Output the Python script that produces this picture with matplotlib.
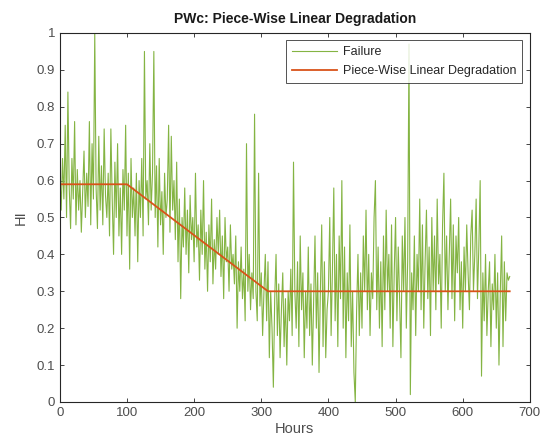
import numpy as np
import matplotlib
matplotlib.use("Agg")
import matplotlib.pyplot as plt

plt.rcParams['font.family'] = ['Liberation Sans', 'DejaVu Sans']

hi_values = [
    0.62, 0.52, 0.66, 0.55, 0.75, 0.50, 0.84, 0.58, 0.47, 0.66,
    0.55, 0.76, 0.48, 0.63, 0.52, 0.60, 0.46, 0.57, 0.68, 0.50,
    0.62, 0.53, 0.76, 0.48, 0.70, 0.55, 1.00, 0.58, 0.47, 0.72,
    0.52, 0.64, 0.48, 0.74, 0.56, 0.50, 0.62, 0.45, 0.74, 0.55,
    0.40, 0.65, 0.50, 0.70, 0.45, 0.58, 0.40, 0.63, 0.52, 0.75,
    0.45, 0.62, 0.36, 0.66, 0.50, 0.58, 0.45, 0.62, 0.38, 0.60,
    0.50, 0.66, 0.45, 0.95, 0.55, 0.60, 0.48, 0.70, 0.52, 0.62,
    0.95, 0.50, 0.64, 0.42, 0.66, 0.48, 0.57, 0.40, 0.62, 0.50,
    0.55, 0.75, 0.46, 0.72, 0.52, 0.60, 0.44, 0.65, 0.38, 0.55,
    0.28, 0.50, 0.42, 0.58, 0.40, 0.52, 0.35, 0.56, 0.44, 0.50,
    0.38, 0.62, 0.42, 0.48, 0.33, 0.52, 0.40, 0.60, 0.36, 0.46,
    0.30, 0.48, 0.38, 0.55, 0.32, 0.44, 0.36, 0.50, 0.40, 0.52,
    0.34, 0.45, 0.28, 0.50, 0.38, 0.42, 0.30, 0.48, 0.36, 0.40,
    0.32, 0.45, 0.20, 0.38, 0.30, 0.42, 0.28, 0.36, 0.22, 0.70,
    0.30, 0.40, 0.25, 0.35, 0.28, 0.78, 0.30, 0.22, 0.62, 0.26,
    0.35, 0.18, 0.30, 0.40, 0.22, 0.38, 0.12, 0.30, 0.20, 0.04,
    0.28, 0.40, 0.18, 0.32, 0.12, 0.25, 0.35, 0.15, 0.28, 0.10,
    0.30, 0.22, 0.36, 0.18, 0.65, 0.30, 0.20, 0.38, 0.15, 0.45,
    0.25, 0.35, 0.12, 0.30, 0.20, 0.42, 0.18, 0.32, 0.10, 0.28,
    0.45, 0.20, 0.35, 0.08, 0.30, 0.48, 0.15, 0.38, 0.12, 0.25,
    0.30, 0.50, 0.18, 0.36, 0.58, 0.22, 0.40, 0.15, 0.45, 0.28,
    0.60, 0.20, 0.42, 0.12, 0.35, 0.22, 0.48, 0.15, 0.30, 0.08,
    0.00, 0.25, 0.40, 0.18, 0.35, 0.20, 0.45, 0.30, 0.52, 0.25,
    0.40, 0.18, 0.35, 0.28, 0.50, 0.60, 0.25, 0.42, 0.20, 0.38,
    0.15, 0.45, 0.25, 0.52, 0.30, 0.40, 0.20, 0.48, 0.15, 0.35,
    0.50, 0.22, 0.42, 0.28, 0.12, 0.45, 0.30, 0.50, 0.20, 0.38,
    0.97, 0.02, 0.35, 0.25, 0.45, 0.18, 0.40, 0.30, 0.55, 0.25,
    0.48, 0.20, 0.38, 0.52, 0.28, 0.42, 0.18, 0.50, 0.30, 0.45,
    0.25, 0.55, 0.32, 0.40, 0.20, 0.48, 0.62, 0.30, 0.45, 0.25,
    0.40, 0.55, 0.28, 0.48, 0.22, 0.45, 0.35, 0.50, 0.25, 0.38,
    0.20, 0.42, 0.30, 0.48, 0.35, 0.25, 0.45, 0.52, 0.30, 0.40,
    0.55, 0.28, 0.42, 0.60, 0.07, 0.35, 0.22, 0.40, 0.18, 0.30,
    0.38, 0.15, 0.32, 0.25, 0.40, 0.20, 0.35, 0.10, 0.30, 0.45,
    0.15, 0.38, 0.22, 0.35, 0.33, 0.34,
]
hours = np.arange(len(hi_values)) * 2

# Piece-wise linear degradation breakpoints
pw_hours = [0, 100, 310, 670]
pw_values = [0.59, 0.59, 0.30, 0.30]

title = "PWc: Piece-Wise Linear Degradation"
xlabel = "Hours"
ylabel = "HI"
legend_labels = ["Failure", "Piece-Wise Linear Degradation"]

fig = plt.figure(figsize=(5.44, 4.47), dpi=100)
ax = fig.add_axes([0.110, 0.1007, 0.864, 0.8255])

ax.plot(hours, hi_values, color='#84B443', lw=0.8, label=legend_labels[0])
ax.plot(pw_hours, pw_values, color='#D95319', lw=1.3, label=legend_labels[1])

ax.set_xlim(0, 700)
ax.set_ylim(0, 1)
ax.set_xticks(np.arange(0, 701, 100))
ax.set_yticks(np.arange(0, 1.01, 0.1))
ax.set_yticklabels(['0', '0.1', '0.2', '0.3', '0.4', '0.5', '0.6', '0.7', '0.8', '0.9', '1'])

axcol = '#262626'
for s in ax.spines.values():
    s.set_color(axcol)
    s.set_linewidth(0.8)
ax.tick_params(direction='in', top=True, right=True, length=3, width=0.6,
               colors=axcol, labelsize=9.5, labelcolor='#4d4d4d')

ax.set_title(title, fontsize=10, fontweight='bold', color='#1a1a1a', pad=7)
ax.set_xlabel(xlabel, fontsize=10.5, color='#4d4d4d', labelpad=2)
ax.set_ylabel(ylabel, fontsize=10.5, color='#4d4d4d', labelpad=6)

leg = ax.legend(loc='upper right', fontsize=9, frameon=True, fancybox=False,
                edgecolor='#262626', borderaxespad=0.6, handlelength=3.6,
                borderpad=0.45, labelspacing=0.55, handletextpad=0.5)
leg.get_frame().set_linewidth(0.7)
for t in leg.get_texts():
    t.set_color('#262626')

fig.savefig('out.png', dpi=100)
